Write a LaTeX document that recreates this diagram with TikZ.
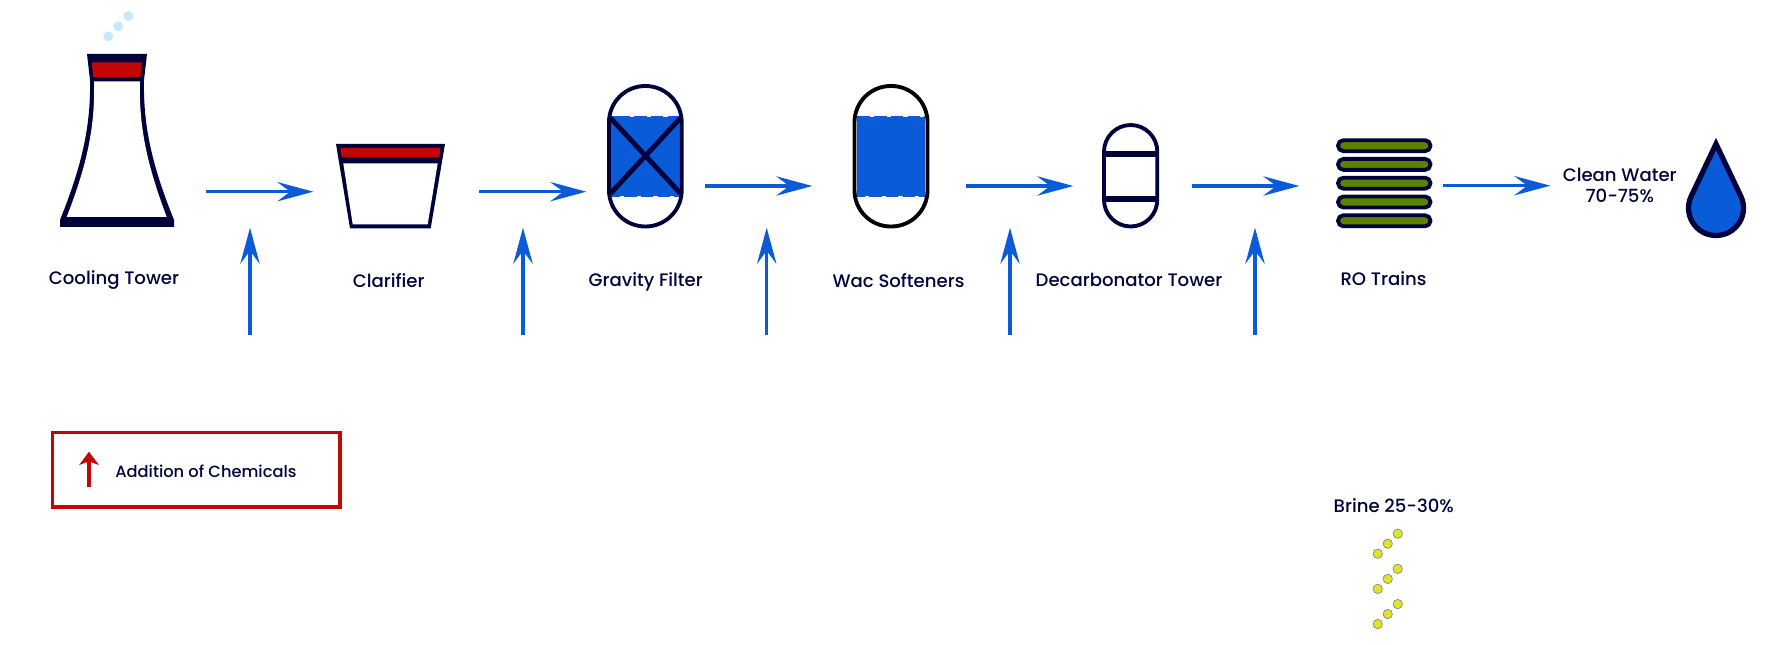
\documentclass[tikz,border=0pt]{standalone}
\usepackage{xcolor}
\usepackage{fontspec}
\setmainfont{Poppins Medium}
\usetikzlibrary{arrows.meta, positioning}
\definecolor{navy}{HTML}{00033B}
\definecolor{flow}{HTML}{0A5BD8}
\definecolor{hot}{HTML}{C40505}
\definecolor{membrane}{HTML}{5C8200}
\definecolor{brine}{HTML}{E2E22A}
\definecolor{steam}{HTML}{C8E9FB}

\begin{document}
\begin{tikzpicture}[x=0.02cm, y=-0.02cm,
  flowarrow/.style={draw=flow, line width=1.9pt, -{Stealth[length=20.5pt, width=11pt, inset=7.4pt]}},
  keyarrow/.style={draw=hot, line width=2.2pt, -{Stealth[length=7.5pt, width=11pt, inset=2pt]}},
  vessel/.style={draw=navy, line width=2.2pt, line join=round},
  caption/.style={text=navy, font=\fontsize{10.3}{12}\selectfont, anchor=base, inner sep=0pt},
  waterline/.style={draw=white, line width=0.4pt, dash pattern=on 2.5pt off 7pt}]
\useasboundingbox (0,0) rectangle (1771,645);

% Cooling tower
\foreach \x/\y in {108.3/36.3, 118.3/26.3, 128.3/16}
  \fill[steam] (\x,\y) circle[radius=5];
\fill[navy] (87,54) -- (147,54) -- (144,80) .. controls (143,130) and (154,170) .. (174,220)
  -- (174,227) -- (60,227) -- (60,220) .. controls (80,170) and (91,130) .. (90,80) -- cycle;
\fill[white] (94,81.5) -- (140,81.5) .. controls (138.5,130) and (149,170) .. (166.7,217)
  -- (66.7,217) .. controls (85,170) and (95.5,130) .. (94,81.5) -- cycle;
\fill[hot] (91.7,62.3) -- (142,62.3) -- (140.3,77.3) -- (93.3,77.3) -- cycle;
\node[caption] (cooling) at (114,284) {Cooling Tower};

% Clarifier
\fill[navy] (336,144) -- (445,144) -- (430.7,228.3) -- (350,228.3) -- cycle;
\fill[white] (343.3,163.3) -- (437.7,163.3) -- (427.7,224.3) -- (352.7,224.3) -- cycle;
\fill[hot] (340.3,148) -- (440.3,148) -- (439.3,157.3) -- (341.7,157.3) -- cycle;
\node[caption] (clarifier) at (388.7,287.3) {Clarifier};

% Gravity filter
\fill[flow] (610.7,116) rectangle (680.7,197.3);
\draw[waterline] (630,116.4) -- (680,116.4);
\draw[waterline] (620,196.6) -- (680,196.6);
\draw[vessel, rounded corners=20.6pt] (609,86) rectangle (681.7,226.5);
\draw[vessel, line width=2.8pt] (610.5,118) -- (680.5,193.5);
\draw[vessel, line width=2.8pt] (680.5,118) -- (610.5,193.5);
\node[caption] (gravity) at (645.7,286.7) {Gravity Filter};

% Wac softeners
\fill[flow] (856.7,116) rectangle (925.3,197.3);
\draw[waterline] (870,116.4) -- (925,116.4);
\draw[waterline] (865,196.6) -- (925,196.6);
\draw[vessel, draw=black!90!navy, rounded corners=20.6pt] (854.5,86) rectangle (927.5,226.5);
\node[caption] (softeners) at (898.5,287.7) {Wac Softeners};

% Decarbonator tower
\draw[vessel, rounded corners=15.2pt] (1104,125) rectangle (1157.3,226.5);
\fill[navy] (1104,150.7) rectangle (1157.3,156.7);
\fill[navy] (1104,196) rectangle (1157.3,201.7);
\node[caption] (decarbonator) at (1129,286.7) {Decarbonator Tower};

% RO trains
\foreach \y in {145.7, 164.4, 183.2, 202, 220.8}
  \draw[vessel, fill=membrane, rounded corners=3.1pt] (1338,\y-5.5) rectangle (1430.5,\y+5.5);
\node[caption] (ro) at (1383.5,285.7) {RO Trains};

% Clean water
\draw[navy, line width=3pt, fill=flow, miter limit=10]
  (1716,144) -- (1691.2,196.2) .. controls (1682.5,214.4) and (1695.8,235.5) .. (1716,235.5)
  .. controls (1736.2,235.5) and (1749.5,214.4) .. (1740.8,196.2) -- cycle;
\node[caption] (clean) at (1619.7,182) {Clean Water};
\node[caption] (percent) at (1619.7,203) {70-75\%};

% Flow arrows
\foreach \n/\a/\b/\y in {1/206/313.3/191.7, 2/479/586.3/191.7, 3/705/812.3/186,
    4/966/1073.3/186, 5/1192/1299.3/186, 6/1443/1550.3/185.7} {
  \coordinate (from\n) at (\a,\y);
  \coordinate (to\n) at (\b,\y);
  \draw[flowarrow] (from\n) -- (to\n);
}

% Chemical dosing
\foreach \n/\x in {1/250, 2/523, 3/766.7, 4/1010, 5/1255} {
  \coordinate (dose\n) at (\x,335);
  \coordinate (point\n) at (\x,227.7);
  \draw[flowarrow] (dose\n) -- (point\n);
}

% Legend
\draw[hot, line width=1.8pt] (52.5,432.8) rectangle (340,507);
\coordinate (keyfrom) at (89,486.7);
\coordinate (keyto) at (89,451.7);
\draw[keyarrow] (keyfrom) -- (keyto);
\node[caption, anchor=base west, font=\fontsize{9.25}{11}\selectfont] (chemicals) at (115,477.3) {Addition of Chemicals};

% Brine
\node[caption] (brinetext) at (1393.7,512.7) {Brine 25-30\%};
\foreach \y in {0, 35.2, 70.4}
  \foreach \x/\d in {1397.7/533.7, 1387.7/543.7, 1377.7/553.7}
    \draw[fill=brine, draw=gray!70!flow, line width=0.3pt] (\x,\d+\y) circle[radius=4.7];
\end{tikzpicture}
\end{document}
